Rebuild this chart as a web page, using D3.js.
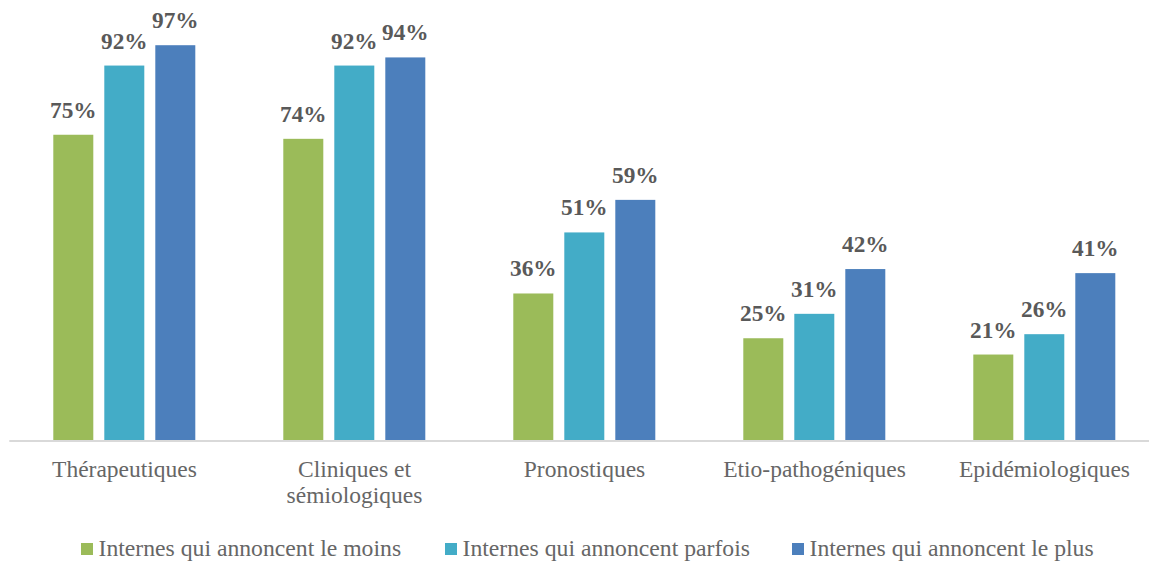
<!DOCTYPE html>
<html>
<head>
<meta charset="utf-8">
<script src="https://cdn.jsdelivr.net/npm/d3@7"></script>
<style>
  html, body { margin: 0; padding: 0; background: #ffffff; }
  svg { display: block; }
</style>
</head>
<body>
<div id="chart"></div>
<script>
// ---- Data ----
const categories = ['Thérapeutiques', 'Cliniques et sémiologiques', 'Pronostiques', 'Etio-pathogéniques', 'Epidémiologiques'];
const series = ['Internes qui annoncent le moins', 'Internes qui annoncent parfois', 'Internes qui annoncent le plus'];
const moins   = [0.75, 0.74, 0.36, 0.25, 0.21];
const parfois = [0.92, 0.92, 0.51, 0.31, 0.26];
const plus    = [0.97, 0.94, 0.59, 0.42, 0.41];
const colors = ['#9BBB59', '#43ACC7', '#4C7FBC'];

const values = [moins, parfois, plus];
const rows = categories.map((c, i) => ({
  cat: c,
  vals: series.map((s, j) => ({ series: s, idx: j, v: values[j][i] }))
}));

// ---- Layout ----
const W = 1149, H = 563;
const baseY = 440;
const valueColor = '#595959';
const textColor = '#666666';
const serif = '"Liberation Serif", "Times New Roman", Times, serif';

const svg = d3.select('#chart').append('svg')
  .attr('width', W).attr('height', H)
  .attr('viewBox', `0 0 ${W} ${H}`);

const x0 = d3.scaleBand().domain(categories).range([9.5, 1159.5]).padding(0);
const x1 = d3.scaleBand().domain(series).range([43.8, 185.8]).paddingInner(11 / 51).paddingOuter(0);
const y = d3.scaleLinear().domain([0, 1]).range([baseY, baseY - 407]);

// bars
const g = svg.append('g');
const groups = g.selectAll('g.grp').data(rows).join('g')
  .attr('class', 'grp')
  .attr('transform', d => `translate(${x0(d.cat)},0)`);

groups.selectAll('rect').data(d => d.vals).join('rect')
  .attr('x', d => x1(d.series))
  .attr('y', d => y(d.v))
  .attr('width', x1.bandwidth())
  .attr('height', d => y(0) - y(d.v))
  .attr('fill', d => colors[d.idx]);

// value labels
groups.selectAll('text.val').data(d => d.vals).join('text')
  .attr('class', 'val')
  .attr('x', d => x1(d.series) + x1.bandwidth() / 2)
  .attr('y', d => y(d.v) - 17)
  .attr('text-anchor', 'middle')
  .attr('fill', valueColor)
  .style('font-family', serif)
  .style('font-weight', 'bold')
  .style('font-size', '23.3px')
  .text(d => d3.format('.0%')(d.v));

// axis line
svg.append('line')
  .attr('x1', 9.3).attr('x2', W)
  .attr('y1', baseY + 1).attr('y2', baseY + 1)
  .attr('stroke', '#d9d9d9').attr('stroke-width', 2);

// category labels (wrapped)
const xAxis = d3.axisBottom(x0).tickSize(0).tickPadding(0);
const axisG = svg.append('g').attr('transform', `translate(0,${baseY})`).call(xAxis);
axisG.select('.domain').remove();
axisG.selectAll('.tick text')
  .attr('fill', textColor)
  .style('font-family', serif)
  .style('font-size', '23.5px')
  .attr('dy', null)
  .attr('y', 0)
  .each(function (d) {
    const t = d3.select(this);
    const words = d.split(' ');
    const lines = [];
    let line = [];
    t.text(null);
    const probe = t.append('tspan');
    words.forEach(w => {
      line.push(w);
      probe.text(line.join(' '));
      if (probe.node().getComputedTextLength() > 215 && line.length > 1) {
        line.pop();
        lines.push(line.join(' '));
        line = [w];
      }
    });
    lines.push(line.join(' '));
    probe.remove();
    lines.forEach((l, i) => {
      t.append('tspan').attr('x', 0).attr('y', 36.7 + i * 26).text(l);
    });
  });

// legend
const legendX = [81, 445, 792];
const legend = svg.append('g').selectAll('g').data(series).join('g')
  .attr('transform', (d, i) => `translate(${legendX[i]},543)`);
legend.append('rect')
  .attr('width', 12).attr('height', 12)
  .attr('fill', (d, i) => colors[i]);
legend.append('text')
  .attr('x', 17.5).attr('y', 12.5)
  .attr('fill', textColor)
  .style('font-family', serif)
  .style('font-size', '23.7px')
  .text(d => d);
</script>
</body>
</html>
